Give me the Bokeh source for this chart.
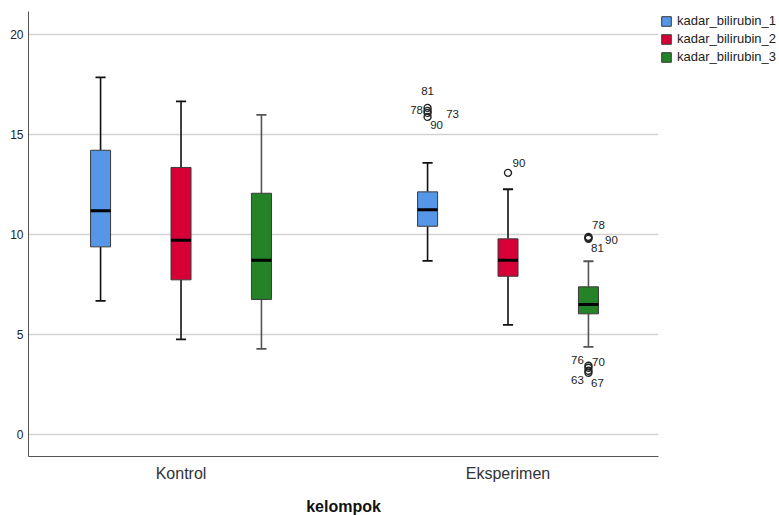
from bokeh.plotting import figure
from bokeh.models import Range1d, FixedTicker, Legend, LegendItem, ColumnDataSource
from bokeh.core.properties import value
from bokeh.embed import file_html
from bokeh.resources import INLINE

# ---------------- data ----------------
groups = ["Kontrol", "Eksperimen"]
series = ["kadar_bilirubin_1", "kadar_bilirubin_2", "kadar_bilirubin_3"]
y_ticks = [0, 5, 10, 15, 20]

box_group = ["Kontrol", "Kontrol", "Kontrol", "Eksperimen", "Eksperimen", "Eksperimen"]
box_series = [0, 1, 2, 0, 1, 2]
whisker_low = [6.7, 4.77, 4.3, 8.7, 5.5, 4.4]
q1 = [9.4, 7.75, 6.77, 10.43, 7.93, 6.05]
median = [11.2, 9.73, 8.73, 11.25, 8.73, 6.52]
q3 = [14.23, 13.37, 12.08, 12.15, 9.8, 7.4]
whisker_high = [17.88, 16.68, 16.0, 13.6, 12.28, 8.68]

out_group = ["Eksperimen"] * 12
out_series = [0, 0, 0, 0, 1, 2, 2, 2, 2, 2, 2, 2]
out_value = [16.35, 16.2, 16.1, 15.9, 13.1, 9.9, 9.85, 9.8, 3.45, 3.35, 3.2, 3.1]
out_label = ["81", "78", "73", "90", "90", "78", "90", "81", "76", "70", "63", "67"]

# ---------------- styles ----------------
colors = ["#5596e6", "#d60036", "#248227"]
whisker_colors = ["#111111", "#111111", "#555555"]
label_dx = [0, -11, 25, 9, 11, 10, 23, 9, -11, 10, -11, 9]
label_dy = [-17, -1, 1, 8, -10, -12, 2, 9, -6, -6, 9, 10]

FONT = "Liberation Sans"
group_pos = {g: i + 1 for i, g in enumerate(groups)}
OFFSET = 0.246
BOX_W = 0.0612
CAP_W = 0.031


def xpos(g, s):
    return group_pos[g] + (s - 1) * OFFSET


p = figure(frame_width=630, frame_height=445, output_backend="svg", toolbar_location=None,
           x_range=Range1d(0.5336, 2.4602), y_range=Range1d(-1.085, 21.17),
           min_border_left=28, min_border_right=0, min_border_top=11,
           min_border_bottom=52)
p.outline_line_color = None
p.background_fill_color = "white"
p.border_fill_color = "white"

# grid
p.xgrid.grid_line_color = None
p.ygrid.grid_line_color = "#d2d2d2"
p.ygrid.grid_line_width = 1.6
p.yaxis.ticker = FixedTicker(ticks=y_ticks)

# axes
p.yaxis.axis_line_color = "#555555"
p.yaxis.major_tick_line_color = None
p.yaxis.minor_tick_line_color = None
p.yaxis.major_tick_out = 0
p.yaxis.major_tick_in = 0
p.yaxis.major_label_standoff = 5
p.yaxis.major_label_text_font = FONT
p.yaxis.major_label_text_font_size = "12px"
p.yaxis.major_label_text_color = "#222222"

p.xaxis.ticker = FixedTicker(ticks=[group_pos[g] for g in groups])
p.xaxis.major_label_overrides = {group_pos[g]: g for g in groups}
p.xaxis.axis_line_color = "#555555"
p.xaxis.major_tick_line_color = None
p.xaxis.minor_tick_line_color = None
p.xaxis.major_tick_out = 0
p.xaxis.major_tick_in = 0
p.xaxis.major_label_standoff = 8
p.xaxis.major_label_text_font = FONT
p.xaxis.major_label_text_font_size = "16px"
p.xaxis.major_label_text_color = "#333333"
p.xaxis.axis_label = "kelompok"
p.xaxis.axis_label_text_font = FONT
p.xaxis.axis_label_text_font_style = "bold"
p.xaxis.axis_label_text_font_size = "16px"
p.xaxis.axis_label_text_color = "#111111"
p.xaxis.axis_label_standoff = 13

legend_items = []
for s in range(len(series)):
    idx = [i for i in range(len(box_series)) if box_series[i] == s]
    xs = [xpos(box_group[i], s) for i in idx]
    wc = whisker_colors[s]
    # whiskers
    p.segment(x0=xs, x1=xs, y0=[whisker_low[i] for i in idx], y1=[q1[i] for i in idx],
              line_color=wc, line_width=1.6)
    p.segment(x0=xs, x1=xs, y0=[q3[i] for i in idx], y1=[whisker_high[i] for i in idx],
              line_color=wc, line_width=1.6)
    # caps
    p.segment(x0=[x - CAP_W / 2 for x in xs], x1=[x + CAP_W / 2 for x in xs],
              y0=[whisker_low[i] for i in idx], y1=[whisker_low[i] for i in idx],
              line_color=wc, line_width=1.8)
    p.segment(x0=[x - CAP_W / 2 for x in xs], x1=[x + CAP_W / 2 for x in xs],
              y0=[whisker_high[i] for i in idx], y1=[whisker_high[i] for i in idx],
              line_color=wc, line_width=1.8)
    # box
    r = p.vbar(x=xs, width=BOX_W, bottom=[q1[i] for i in idx], top=[q3[i] for i in idx],
               fill_color=colors[s], line_color="#3a3a3a", line_width=1)
    # median
    p.segment(x0=[x - BOX_W / 2 for x in xs], x1=[x + BOX_W / 2 for x in xs],
              y0=[median[i] for i in idx], y1=[median[i] for i in idx],
              line_color="#000000", line_width=3)
    legend_items.append(LegendItem(label=series[s], renderers=[r]))

# outliers
ox = [xpos(g, s) for g, s in zip(out_group, out_series)]
p.scatter(x=ox, y=out_value, marker="circle", size=7, fill_color="white",
          fill_alpha=0, line_color="#222222", line_width=1.4)
src = ColumnDataSource(dict(x=ox, y=out_value, t=out_label, dx=label_dx, dy=label_dy))
p.text(x="x", y="y", text="t", x_offset="dx", y_offset="dy", source=src,
       text_font=value(FONT), text_font_size="11.5px", text_color="#222222",
       text_align="center", text_baseline="middle")

legend = Legend(items=legend_items, location="top_left")
legend.border_line_color = None
legend.background_fill_alpha = 0
legend.margin = 2
legend.padding = 0
legend.spacing = 3
legend.glyph_width = 12
legend.glyph_height = 12
legend.label_standoff = 5
legend.label_text_font = FONT
legend.label_text_font_size = "13px"
legend.label_text_color = "#222222"
legend.label_height = 15
p.add_layout(legend, "right")

open("out.html", "w").write(file_html(p, INLINE))
